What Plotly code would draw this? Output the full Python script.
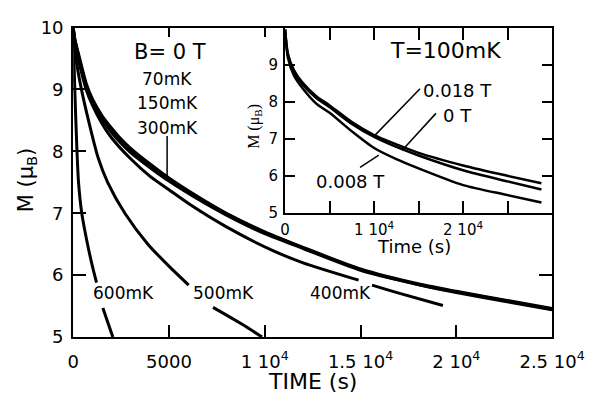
import plotly.graph_objects as go

W, H = 616, 403

# ---------------- data (main panel, B = 0 T) ----------------
t_70 = [0, 100, 300, 700, 1000, 1500, 2000, 2500, 3000, 4000, 5000, 6500, 8000, 10000, 12000, 15000, 18000, 20000, 22500, 25000]
m_70 = [10, 9.8, 9.55, 9.08, 8.85, 8.58, 8.38, 8.2, 8.05, 7.8, 7.57, 7.27, 7.0, 6.7, 6.45, 6.1, 5.86, 5.74, 5.6, 5.46]
t_150 = t_70
m_150 = [10, 9.78, 9.52, 9.05, 8.82, 8.55, 8.35, 8.17, 8.02, 7.78, 7.55, 7.25, 6.99, 6.69, 6.44, 6.09, 5.85, 5.73, 5.59, 5.45]
t_300 = t_70
m_300 = [10, 9.76, 9.5, 9.02, 8.79, 8.52, 8.31, 8.13, 7.98, 7.74, 7.52, 7.23, 6.97, 6.67, 6.43, 6.08, 5.85, 5.72, 5.58, 5.44]
t_400 = [0, 100, 300, 700, 1000, 1500, 2000, 3000, 4000, 5000, 6200, 8000, 10400, 12000, 14900, None, 15600, 17000, 19300]
m_400 = [10, 9.75, 9.45, 8.98, 8.75, 8.45, 8.22, 7.88, 7.6, 7.38, 7.12, 6.78, 6.4, 6.2, 5.92, None, 5.84, 5.71, 5.51]
t_500 = [0, 150, 400, 800, 1300, 1800, 2700, 3900, 5050, 6030, None, 7300, 8800, 9860]
m_500 = [10, 9.5, 9.05, 8.5, 7.9, 7.5, 7.0, 6.5, 6.13, 5.84, None, 5.48, 5.21, 5.0]
t_600 = [0, 40, 80, 140, 200, 280, 450, 750, 1000, 1220, None, 1550, 2070]
m_600 = [10, 9.5, 9.05, 8.5, 8.0, 7.5, 7.0, 6.5, 6.15, 5.88, None, 5.47, 5.0]

# ---------------- data (inset, T = 100 mK) ----------------
t_in = [0, 300, 1000, 2000, 3500, 5000, 7500, 10000, 12500, 15000, 20000, 25000, 28800]
m_018 = [9.95, 9.3, 8.85, 8.5, 8.15, 7.9, 7.45, 7.1, 6.85, 6.62, 6.28, 6.0, 5.8]
m_0 = [9.95, 9.28, 8.8, 8.45, 8.1, 7.85, 7.4, 7.05, 6.78, 6.55, 6.15, 5.85, 5.63]
m_008 = [9.9, 9.2, 8.7, 8.35, 7.95, 7.7, 7.2, 6.75, 6.45, 6.2, 5.75, 5.48, 5.28]

main_xticks = [0, 5000, 10000, 15000, 20000, 25000]
main_xtext = ['0', '5000', '1 10<sup>4</sup>', '1.5 10<sup>4</sup>', '2 10<sup>4</sup>', '2.5 10<sup>4</sup>']
main_yticks = [5, 6, 7, 8, 9, 10]
main_ytext = ['5', '6', '7', '8', '9', '10']
in_xticks = [0, 5000, 10000, 15000, 20000, 25000, 30000]
in_xtext = ['0', '', '1 10<sup>4</sup>', '', '2 10<sup>4</sup>', '', '']
in_yticks = [5, 6, 7, 8, 9, 10]
in_ytext = ['5', '6', '7', '8', '9', '']

FONT = "DejaVu Sans"


def px(x):
    return x / W


def py(y):
    return 1 - y / H


fig = go.Figure()

line = dict(color='black', width=3, shape='spline', smoothing=0.7)
for t, m, name in [(t_70, m_70, '70mK'), (t_150, m_150, '150mK'), (t_300, m_300, '300mK'),
                   (t_400, m_400, '400mK'), (t_500, m_500, '500mK'), (t_600, m_600, '600mK')]:
    fig.add_trace(go.Scatter(x=t, y=m, mode='lines', line=line, name=name,
                             xaxis='x', yaxis='y', showlegend=False))

inline = dict(color='black', width=2.5, shape='spline', smoothing=0.7)
for m, name in [(m_018, '0.018 T'), (m_0, '0 T'), (m_008, '0.008 T')]:
    fig.add_trace(go.Scatter(x=t_in, y=m, mode='lines', line=inline, name=name,
                             xaxis='x2', yaxis='y2', showlegend=False))

# helper trace for overlay tick axes
fig.add_trace(go.Scatter(x=[None], y=[None], xaxis='x3', yaxis='y3', showlegend=False, hoverinfo='skip'))

main_dom_x = [px(71.7), px(583)]
main_dom_y = [py(344), py(17.5)]
in_dom_x = [px(298), px(583)]
in_dom_y = [py(213), py(17.5)]

axcommon = dict(showgrid=False, zeroline=False, showline=True, linecolor='black', linewidth=2,
                ticks='inside', tickcolor='black', tickwidth=2)

fig.update_layout(
    width=W, height=H,
    margin=dict(l=0, r=0, t=0, b=0),
    paper_bgcolor='white', plot_bgcolor='white',
    font=dict(family=FONT, color='black'),
    xaxis=dict(**axcommon, domain=main_dom_x, range=[0, 25000], anchor='y', mirror=True,
               ticklen=12, tickvals=main_xticks, ticktext=main_xtext,
               tickfont=dict(size=18), ticklabelstandoff=7),
    yaxis=dict(**axcommon, domain=main_dom_y, range=[5, 10], anchor='x', mirror=True,
               ticklen=13, tickvals=main_yticks, ticktext=main_ytext,
               tickfont=dict(size=18), ticklabelstandoff=4),
    xaxis3=dict(overlaying='x', side='top', range=[0, 25000], anchor='y', showgrid=False,
                zeroline=False, showline=False, ticks='inside', ticklen=9, tickwidth=2,
                tickcolor='black', tickvals=[5000, 10000], showticklabels=False),
    yaxis3=dict(overlaying='y', side='right', range=[5, 10], anchor='x', showgrid=False,
                zeroline=False, showline=False, ticks='inside', ticklen=13, tickwidth=2,
                tickcolor='black', tickvals=[6], showticklabels=False),
    xaxis2=dict(**axcommon, domain=in_dom_x, range=[0, 30000], anchor='y2', mirror='ticks',
                ticklen=12, tickvals=in_xticks, ticktext=in_xtext,
                tickfont=dict(size=15), ticklabelstandoff=2),
    yaxis2=dict(**axcommon, domain=in_dom_y, range=[5, 10], anchor='x2', mirror='ticks',
                ticklen=10, tickvals=in_yticks, ticktext=in_ytext,
                tickfont=dict(size=15), ticklabelstandoff=2),
)

annots = [
    ("B= 0 T", 175, 43, 21, FONT, 0),
    ("70mK", 172, 72, 17, FONT, 0),
    ("150mK", 172, 97, 17, FONT, 0),
    ("300mK", 172, 123, 17, FONT, 0),
    ("600mK", 125, 298, 17, FONT, 0),
    ("500mK", 232, 298, 17, FONT, 0),
    ("400mK", 357, 297, 17, FONT, 0),
    ("T=100mK", 469, 42, 22, FONT, 0),
    ("0.018 T", 482, 84, 18, FONT, 0),
    ("0 T", 482, 110, 18, FONT, 0),
    ("0.008 T", 368, 180, 18, FONT, 0),
    ("TIME (s)", 327, 391, 22, FONT, 0),
    ("M (μ<sub>B</sub>)", 22, 178, 21, FONT, -90),
    ("Time (s)", 436, 248, 18, FONT, 0),
    ("M (μ<sub>B</sub>)", 265, 122, 16, "Liberation Serif", -90),
]
for text, x, y, size, fam, ang in annots:
    fig.add_annotation(text=text, x=px(x), y=py(y), xref='paper', yref='paper',
                       xanchor='center', yanchor='middle', showarrow=False,
                       textangle=ang, font=dict(size=size, family=fam, color='black'))

pointers = [
    (172, 132, 172, 177),
    (393, 132, 442, 82),
    (423, 147, 459, 108),
    (378, 165, 398, 152),
]
for x0, y0, x1, y1 in pointers:
    fig.add_shape(type='line', xref='paper', yref='paper', x0=px(x0), y0=py(y0),
                  x1=px(x1), y1=py(y1), line=dict(color='black', width=1.5))

fig.write_html("out.html")
